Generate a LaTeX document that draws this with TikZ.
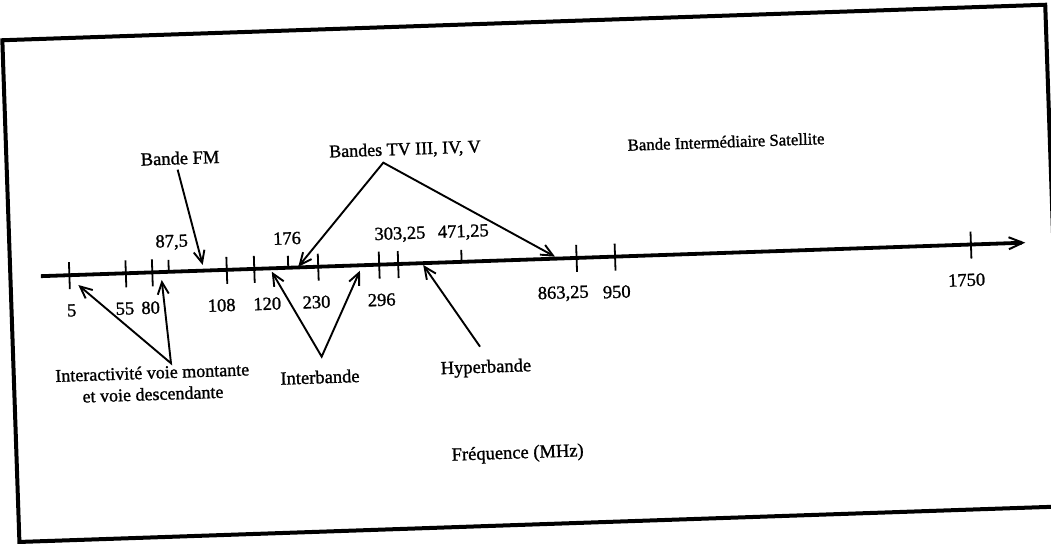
\documentclass[tikz,border=0pt]{standalone}
\usepackage{fontspec}
\setmainfont{Liberation Serif}
\newfontfamily\heavyserif[FakeBold=1.2]{Liberation Serif}
\usetikzlibrary{arrows.meta}
\begin{document}
\begin{tikzpicture}[x=1pt,y=-1pt,
  lbl/.style={font=\heavyserif\fontsize{18.5}{20.5}\selectfont, inner sep=0pt, transform shape, align=center},
  ticklbl/.style={font=\heavyserif\fontsize{18.5}{20}\selectfont, inner sep=0pt, transform shape},
  tickmark/.style={line width=1.8pt},
  ptr/.style={line width=1.9pt, -{Straight Barb[length=12pt,width=11pt,line width=1.9pt]}},
  ptrtwo/.style={line width=1.9pt, line join=miter, {Straight Barb[length=12pt,width=11pt,line width=1.9pt]}-{Straight Barb[length=12pt,width=11pt,line width=1.9pt]}},
  axisline/.style={line width=3.8pt, -{Straight Barb[length=14pt,width=12pt,line width=2pt]}},
  framebox/.style={line width=4pt}]
\useasboundingbox (0,0) rectangle (1051,543);
\clip (0,0) rectangle (1051,543);
\begin{scope}[rotate around={1.95:(525,271.5)}]
% frame
\draw[framebox] (10.5,22.6) rectangle (1054,524.6);
% axis
\coordinate (A0) at (41,259.7);
\coordinate (A1) at (1026,259.7);
\draw[axisline] (A0) -- (A1);
% full ticks with labels below
\foreach \tx/\lx/\t/\nm in {69.5/70.6/5/l5, 126/123.9/55/l55, 152.5/149.6/80/l80, 227/220.7/108/l108, 254.5/266.3/120/l120, 318.5/315.6/230/l230, 379.5/380.8/296/l296, 577/562.5/{863,25}/l863, 615.5/616/950/l950, 971.6/966.1/1750/l1750}{
  \draw[tickmark] (\tx,246.7) -- (\tx,273.7);
  \node[ticklbl] (\nm) at (\lx,295) {\t};
}
% full tick with label above
\draw[tickmark] (398.5,246.7) -- (398.5,273.7);
\node[ticklbl] (l303) at (401.3,230.3) {303,25};
% short ticks with labels above
\foreach \tx/\lx/\t/\nm in {169/172.9/{87,5}/l87, 288.5/288.3/176/l176, 462/464.7/{471,25}/l471}{
  \draw[tickmark] (\tx,247.7) -- (\tx,259.7);
  \node[ticklbl] (\nm) at (\lx,230.3) {\t};
}
% texts
\node[lbl] (fm) at (184.1,146.3) {Bande FM};
\node[lbl, font=\heavyserif\fontsize{18}{20}\selectfont] (tv) at (409.2,146.0) {Bandes TV III, IV, V};
\node[lbl, font=\heavyserif\fontsize{16.8}{20}\selectfont] (sat) at (730.3,148.6) {Bande Intermédiaire Satellite};
\node[lbl, font=\heavyserif\fontsize{18}{21.5}\selectfont] (inter) at (149,370.5) {Interactivité voie montante\\et voie descendante};
\node[lbl] (ib) at (316.5,370) {Interbande};
\node[lbl] (hyp) at (482.7,366.9) {Hyperbande};
\node[lbl] (freq) at (511.5,453.6) {Fréquence (MHz)};
% pointers
\coordinate (fmS) at (181.3,157.9);
\coordinate (fmT) at (203.1,254);
\draw[ptr] (fmS) -- (fmT);
\coordinate (tvA) at (387.1,157.9);
\coordinate (tvL) at (298.6,259);
\coordinate (tvR) at (555.5,257.7);
\draw[ptrtwo] (tvL) -- (tvA) -- (tvR);
\coordinate (iaA) at (168.1,351.2);
\coordinate (iaL) at (78.1,269.8);
\coordinate (iaR) at (161.6,267.6);
\draw[ptrtwo] (iaL) -- (iaA) -- (iaR);
\coordinate (ibA) at (318.9,349.7);
\coordinate (ibL) at (271.9,263.1);
\coordinate (ibR) at (360.1,265.1);
\draw[ptrtwo] (ibL) -- (ibA) -- (ibR);
\coordinate (hyS) at (477.5,345.1);
\coordinate (hyT) at (423.5,261.5);
\draw[ptr] (hyS) -- (hyT);
\end{scope}
\end{tikzpicture}
\end{document}
